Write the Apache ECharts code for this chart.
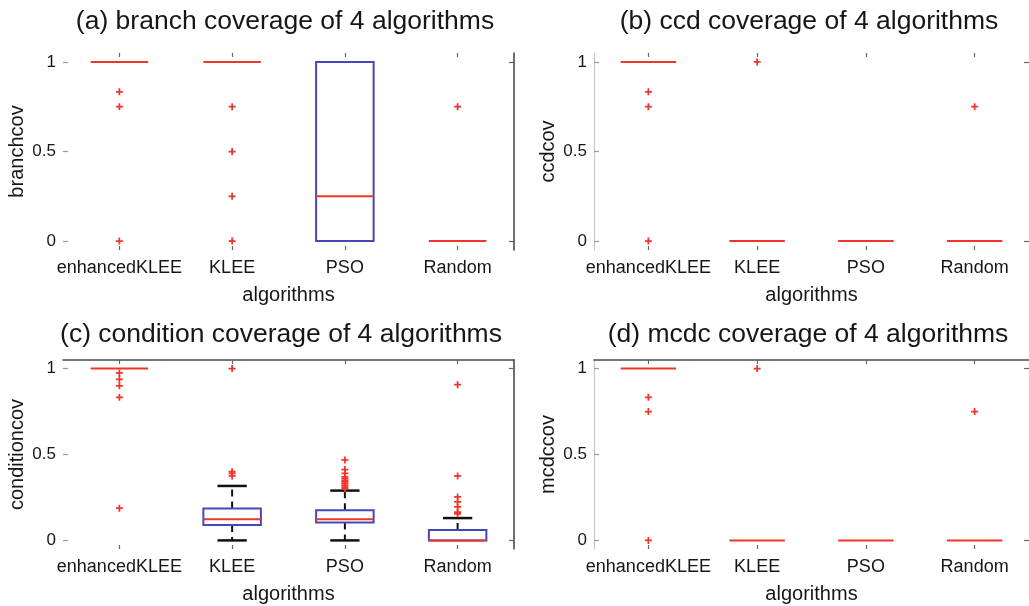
<!DOCTYPE html>
<html>
<head>
<meta charset="utf-8">
<script src="https://cdn.jsdelivr.net/npm/echarts@6/dist/echarts.min.js"></script>
<style>
  html, body { margin: 0; padding: 0; background: #fff; }
  #chart { width: 1029px; height: 606px; }
</style>
</head>
<body>
<div id="chart"></div>
<script>
// Categories and y tick values shared by all four panels
const algorithms = ['enhancedKLEE', 'KLEE', 'PSO', 'Random'];
const yTicks = [0, 0.5, 1];

// Box summaries per algorithm: [lower whisker, Q1, median, Q3, upper whisker]
const branchStats = [[1, 1, 1, 1, 1], [1, 1, 1, 1, 1], [0, 0, 0.25, 1, 1], [0, 0, 0, 0, 0]];
// Outliers: [algorithm index, value]
const branchOutliers = [[0, 0.833], [0, 0.75], [0, 0], [1, 0.75], [1, 0.5], [1, 0.25], [1, 0], [3, 0.75]];

const ccdStats = [[1, 1, 1, 1, 1], [0, 0, 0, 0, 0], [0, 0, 0, 0, 0], [0, 0, 0, 0, 0]];
const ccdOutliers = [[0, 0.833], [0, 0.75], [0, 0], [1, 1], [3, 0.75]];

const conditionStats = [[1, 1, 1, 1, 1], [0, 0.09, 0.123, 0.185, 0.317], [0, 0.104, 0.123, 0.176, 0.29], [0, 0, 0, 0.06, 0.13]];
const conditionOutliers = [
  [0, 0.975], [0, 0.9375], [0, 0.9], [0, 0.833], [0, 0.1875],
  [1, 1], [1, 0.4], [1, 0.39], [1, 0.375],
  [2, 0.468], [2, 0.412], [2, 0.39], [2, 0.37], [2, 0.36], [2, 0.35], [2, 0.34], [2, 0.33], [2, 0.32], [2, 0.31], [2, 0.3],
  [3, 0.906], [3, 0.375], [3, 0.253], [3, 0.224], [3, 0.195], [3, 0.165], [3, 0.155]
];

const mcdcStats = [[1, 1, 1, 1, 1], [0, 0, 0, 0, 0], [0, 0, 0, 0, 0], [0, 0, 0, 0, 0]];
const mcdcOutliers = [[0, 0.833], [0, 0.75], [0, 0], [1, 1], [3, 0.75]];

const FONT = '"Liberation Sans", Arial, Helvetica, sans-serif';
const TEXT = '#161616';
const RED = '#f0342a';
const BLUE = '#4848b4';
const DARK = '#4a4a4a';
const LIGHT = '#c8c8c8';
const PLUS = 'path://M3,0H5V3H8V5H5V8H3V5H0V3H3Z';

const panels = [
  { title: '(a) branch coverage of 4 algorithms', yName: 'branchcov', stats: branchStats, outliers: branchOutliers,
    grid: { left: 63, top: 53, width: 451, height: 197 }, titleAt: [285, 22],
    leftLine: null, rightLine: DARK, topLine: null },
  { title: '(b) ccd coverage of 4 algorithms', yName: 'ccdcov', stats: ccdStats, outliers: ccdOutliers,
    grid: { left: 594, top: 53, width: 441, height: 197 }, titleAt: [809, 22],
    leftLine: LIGHT, rightLine: null, topLine: null },
  { title: '(c) condition coverage of 4 algorithms', yName: 'conditioncov', stats: conditionStats, outliers: conditionOutliers,
    grid: { left: 63, top: 360, width: 451, height: 189 }, titleAt: [281, 335],
    leftLine: null, rightLine: DARK, topLine: DARK },
  { title: '(d) mcdc coverage of 4 algorithms', yName: 'mcdccov', stats: mcdcStats, outliers: mcdcOutliers,
    grid: { left: 594, top: 360, width: 441, height: 189 }, titleAt: [808, 335],
    leftLine: LIGHT, rightLine: null, topLine: DARK }
];

// Draws one MATLAB-style box: dashed whiskers, caps, blue box, red median.
// Zero-length parts are hidden under the median line, so they are skipped.
function renderBox(params, api) {
  const i = api.value(0);
  const band = api.size([1, 0])[0];
  const x = api.coord([i, 0])[0];
  const py = k => api.coord([i, api.value(k)])[1];
  const lo = py(1), q1 = py(2), med = py(3), q3 = py(4), hi = py(5);
  const bw = band * 0.51, cw = band * 0.26;
  const whisker = { stroke: '#111', lineWidth: 2, lineDash: [7, 5] };
  const cap = { stroke: '#111', lineWidth: 2.5 };
  const children = [];
  if (Math.abs(hi - q3) > 0.5) {
    children.push({ type: 'line', shape: { x1: x, y1: q3, x2: x, y2: hi }, style: whisker });
    children.push({ type: 'line', shape: { x1: x - cw / 2, y1: hi, x2: x + cw / 2, y2: hi }, style: cap });
  }
  if (Math.abs(q1 - lo) > 0.5) {
    children.push({ type: 'line', shape: { x1: x, y1: q1, x2: x, y2: lo }, style: whisker });
    children.push({ type: 'line', shape: { x1: x - cw / 2, y1: lo, x2: x + cw / 2, y2: lo }, style: cap });
  }
  if (Math.abs(q1 - q3) > 0.5) {
    children.push({ type: 'rect', shape: { x: x - bw / 2, y: q3, width: bw, height: q1 - q3 },
      style: { fill: 'none', stroke: BLUE, lineWidth: 2 } });
  }
  children.push({ type: 'line', shape: { x1: x - bw / 2, y1: med, x2: x + bw / 2, y2: med },
    style: { stroke: RED, lineWidth: 2 } });
  return { type: 'group', children };
}

const grid = [], xAxis = [], yAxis = [], series = [], graphic = [];

panels.forEach((p, g) => {
  grid.push(p.grid);

  // bottom category axis with labels and name
  xAxis.push({
    type: 'category', gridIndex: g, position: 'bottom', data: algorithms,
    axisLine: { show: false, onZero: false },
    axisTick: { show: true, inside: true, alignWithLabel: true, length: 4, lineStyle: { color: '#666', width: 1.2 } },
    axisLabel: { color: TEXT, fontSize: 18, fontFamily: FONT, margin: 9, interval: 0, hideOverlap: false },
    name: 'algorithms', nameLocation: 'middle', nameGap: 35,
    nameTextStyle: { color: TEXT, fontSize: 20, fontFamily: FONT },
    splitLine: { show: false }
  });
  // top category axis (frame edge + ticks)
  xAxis.push({
    type: 'category', gridIndex: g, position: 'top', data: algorithms,
    axisLine: { show: !!p.topLine, onZero: false, lineStyle: { color: p.topLine || DARK, width: 1.6 } },
    axisTick: { show: true, inside: true, alignWithLabel: true, length: 4, lineStyle: { color: '#666', width: 1.2 } },
    axisLabel: { show: false },
    splitLine: { show: false }
  });
  // left value axis
  yAxis.push({
    type: 'value', gridIndex: g, position: 'left', min: -0.05, max: 1.05,
    axisLine: { show: !!p.leftLine, onZero: false, lineStyle: { color: p.leftLine || LIGHT, width: 1.2 } },
    axisTick: { show: true, inside: true, length: 5, customValues: yTicks, lineStyle: { color: '#9a9a9a', width: 1.2 } },
    axisLabel: { color: TEXT, fontSize: 17, fontFamily: FONT, margin: 7, customValues: yTicks },
    splitLine: { show: false },
    name: p.yName, nameLocation: 'middle', nameGap: 36,
    nameTextStyle: { color: TEXT, fontSize: 20, fontFamily: FONT }
  });
  // right value axis (frame edge + ticks)
  yAxis.push({
    type: 'value', gridIndex: g, position: 'right', min: -0.05, max: 1.05,
    axisLine: { show: !!p.rightLine, onZero: false, lineStyle: { color: p.rightLine || DARK, width: 1.6 } },
    axisTick: { show: true, inside: true, length: 5, customValues: [0, 1], lineStyle: { color: '#666', width: 1.2 } },
    axisLabel: { show: false },
    splitLine: { show: false }
  });

  series.push({
    type: 'custom', name: p.yName, xAxisIndex: 2 * g, yAxisIndex: 2 * g,
    renderItem: renderBox, clip: false, z: 2,
    encode: { x: 0, y: [1, 2, 3, 4, 5] },
    data: p.stats.map((s, i) => [i].concat(s))
  });
  series.push({
    type: 'scatter', name: p.yName + ' outliers', xAxisIndex: 2 * g, yAxisIndex: 2 * g,
    symbol: PLUS, symbolSize: 7, z: 3,
    itemStyle: { color: RED, opacity: 1 },
    data: p.outliers
  });

  graphic.push({
    type: 'text', x: p.titleAt[0], y: p.titleAt[1],
    style: { text: p.title, fill: TEXT, fontSize: 26.5, fontFamily: FONT, align: 'center', verticalAlign: 'middle' }
  });
});

const chart = echarts.init(document.getElementById('chart'), null, { renderer: 'canvas' });
chart.setOption({
  animation: false,
  backgroundColor: '#fff',
  grid, xAxis, yAxis, series, graphic,
  tooltip: { show: false }
});
</script>
</body>
</html>
